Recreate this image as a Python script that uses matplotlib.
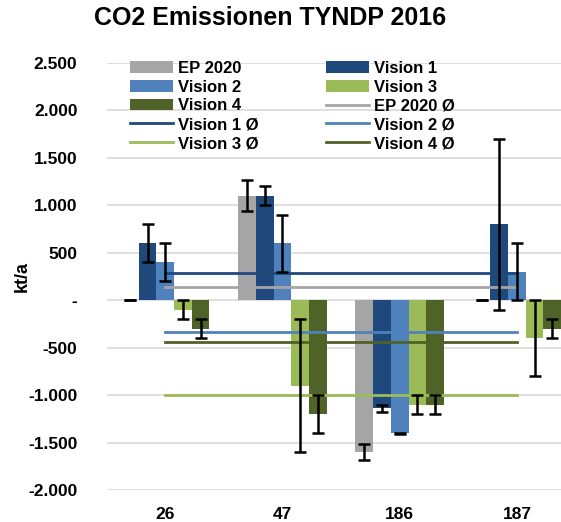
import numpy as np
import matplotlib.pyplot as plt
from matplotlib.ticker import FuncFormatter

plt.rcParams['font.family'] = ['Liberation Sans', 'DejaVu Sans']
plt.rcParams['font.weight'] = 'bold'

# Daten: CO2-Emissionen je Projekt (kt/a)
kategorien = ['26', '47', '186', '187']
serien = ['EP 2020', 'Vision 1', 'Vision 2', 'Vision 3', 'Vision 4']

ep2020 = [0, 1100, -1600, 0]
vision1 = [600, 1100, -1140, 800]
vision2 = [400, 600, -1400, 300]
vision3 = [-100, -900, -1100, -400]
vision4 = [-300, -1200, -1100, -300]

fehler_ep2020 = [0, 160, 80, 0]
fehler_vision1 = [200, 100, 40, 900]
fehler_vision2 = [200, 300, 5, 300]
fehler_vision3 = [100, 700, 100, 400]
fehler_vision4 = [100, 200, 100, 100]

# Mittelwertlinien (Ø)
mittel = [140, 280, -340, -1000, -440]

farben = ['#a5a5a5', '#1f497d', '#4f81bd', '#9bbb59', '#4f6228']

werte = [ep2020, vision1, vision2, vision3, vision4]
fehler = [fehler_ep2020, fehler_vision1, fehler_vision2, fehler_vision3, fehler_vision4]

fig = plt.figure(figsize=(5.61, 5.22), dpi=100)
ax = fig.add_axes([0.19, 0.0613, 0.81, 0.8186])

x = np.arange(len(kategorien))
breite = 0.151

balken = []
for i, (name, w, f, c) in enumerate(zip(serien, werte, fehler, farben)):
    pos = x + (i - 2) * breite
    b = ax.bar(pos, w, width=breite, color=c, label=name, zorder=2)
    balken.append(b)
    ax.errorbar(pos, w, yerr=f, fmt='none', ecolor='black', elinewidth=1.8,
                capsize=4, capthick=1.8, zorder=4)

linien = []
for name, m, c in zip(serien, mittel, farben):
    l, = ax.plot(x, [m] * len(x), color=c, linewidth=2, label=name + ' Ø', zorder=3)
    linien.append(l)

ax.set_xlim(-0.5, 3.376)
ax.set_ylim(-2000, 2500)
ax.set_yticks(np.arange(-2000, 2501, 500))
ax.yaxis.set_major_formatter(FuncFormatter(
    lambda v, p: '-' if v == 0 else f'{int(v):,}'.replace(',', '.')))
ax.set_xticks(x)
ax.set_xticklabels(kategorien)
ax.tick_params(axis='both', length=0, labelsize=12.5)
ax.tick_params(axis='x', pad=12)
ax.tick_params(axis='y', pad=21)
ax.grid(axis='y', color='#d9d9d9', linewidth=1.2, zorder=0)
ax.set_axisbelow(True)
for s in ax.spines.values():
    s.set_visible(False)

ax.set_ylabel('kt/a', fontsize=13, fontweight='bold', labelpad=-2)
fig.suptitle('CO2 Emissionen TYNDP 2016', fontsize=18, fontweight='bold',
             x=0.481, y=0.988)

# Legende zeilenweise in zwei Spalten
handles = balken + linien
labels = [h.get_label() for h in handles]
reihenfolge = [0, 2, 4, 6, 8, 1, 3, 5, 7, 9]
ax.legend([handles[i] for i in reihenfolge], [labels[i] for i in reihenfolge],
          ncol=2, loc='upper left', bbox_to_anchor=(0.037, 1.02), frameon=False,
          fontsize=12, handlelength=2.6, handletextpad=0.3, columnspacing=4.0,
          labelspacing=0.23, borderaxespad=0)

plt.savefig('out.png', dpi=100)
